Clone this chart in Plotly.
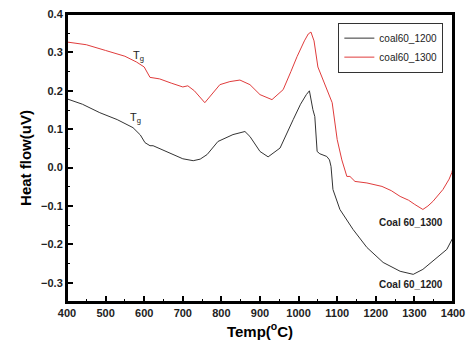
import plotly.graph_objects as go

# coal60_1300 (red)
temp_1300 = [400, 450, 500, 550, 580, 600, 615, 640, 670, 700, 713, 730, 757, 775, 796, 822, 848, 874, 900, 931,
             960, 980, 996, 1015, 1025, 1032, 1040, 1050, 1060, 1075, 1087, 1100, 1112, 1125, 1133, 1146, 1177,
             1216, 1240, 1263, 1285, 1301, 1322, 1335, 1348, 1374, 1390, 1397, 1400]
heat_1300 = [0.327, 0.32, 0.305, 0.29, 0.275, 0.262, 0.235, 0.231, 0.22, 0.21, 0.213, 0.2, 0.169, 0.19, 0.216,
             0.224, 0.228, 0.216, 0.19, 0.177, 0.203, 0.25, 0.289, 0.33, 0.348, 0.353, 0.33, 0.262, 0.236, 0.2,
             0.169, 0.073, 0.02, -0.023, -0.023, -0.036, -0.04, -0.049, -0.06, -0.075, -0.085, -0.096, -0.109,
             -0.1, -0.088, -0.057, -0.03, -0.013, 0.0]

# coal60_1200 (black)
temp_1200 = [400, 440, 485, 530, 571, 590, 602, 615, 623, 659, 700, 727, 745, 763, 791, 830, 861, 874, 900, 921,
             952, 986, 1005, 1020, 1028, 1037, 1042, 1048, 1055, 1073, 1080, 1084, 1089, 1107, 1141, 1177, 1219,
             1263, 1297, 1322, 1358, 1384, 1400]
heat_1200 = [0.179, 0.165, 0.143, 0.125, 0.104, 0.085, 0.065, 0.057, 0.057, 0.042, 0.023, 0.018, 0.022, 0.034,
             0.068, 0.086, 0.094, 0.081, 0.042, 0.028, 0.051, 0.125, 0.165, 0.19, 0.2, 0.151, 0.133, 0.042, 0.036,
             0.029, 0.02, 0.003, -0.057, -0.109, -0.161, -0.208, -0.247, -0.27, -0.278, -0.265, -0.234, -0.213,
             -0.182]

x_ticks = [400, 500, 600, 700, 800, 900, 1000, 1100, 1200, 1300, 1400]
y_ticks = [-0.3, -0.2, -0.1, 0.0, 0.1, 0.2, 0.3, 0.4]

FONT = "Arial, Liberation Sans, sans-serif"

fig = go.Figure()
fig.add_trace(go.Scatter(x=temp_1200, y=heat_1200, mode="lines", name="coal60_1200",
                         line=dict(color="#333333", width=1)))
fig.add_trace(go.Scatter(x=temp_1300, y=heat_1300, mode="lines", name="coal60_1300",
                         line=dict(color="#e03c3c", width=1)))

axis_common = dict(showline=True, linecolor="black", linewidth=2, mirror=True, ticks="inside",
                   ticklen=6, tickwidth=1.5, tickcolor="black", showgrid=False, zeroline=False,
                   automargin=False, ticklabeloverflow="allow",
                   tickfont=dict(family=FONT, size=11, color="#222", weight="bold"))

fig.update_xaxes(range=[400, 1400], tickvals=x_ticks,
                 minor=dict(ticks="inside", ticklen=3, dtick=50, tick0=400, tickcolor="black", tickwidth=1.2),
                 title=dict(text="<b>Temp(<sup>o</sup>C)</b>", font=dict(family=FONT, size=15, color="black"),
                            standoff=8),
                 **axis_common)
fig.update_yaxes(range=[-0.35, 0.4], tickvals=y_ticks, tickformat=".1f",
                 minor=dict(ticks="inside", ticklen=3, dtick=0.05, tick0=0, tickcolor="black", tickwidth=1.2),
                 title=dict(text="<b>Heat flow(uV)</b>", font=dict(family=FONT, size=15, color="black"),
                            standoff=6),
                 **axis_common)

fig.update_layout(
    width=473, height=355,
    margin=dict(l=67, r=20, t=14, b=53),
    plot_bgcolor="white", paper_bgcolor="white",
    font=dict(family=FONT),
    legend=dict(x=0.703, y=0.97, xanchor="left", yanchor="top", bordercolor="#333", borderwidth=1,
                bgcolor="white", font=dict(family=FONT, size=10, color="#222"),
                tracegroupgap=0, itemwidth=30),
    shapes=[dict(type="rect", xref="paper", yref="paper", x0=0, x1=1, y0=0, y1=1,
                 line=dict(color="black", width=2), fillcolor="rgba(0,0,0,0)", layer="above")],
)

ann_font = dict(family=FONT, size=10, color="#222", weight="bold")
fig.add_annotation(x=585, y=0.29, text="T<sub>g</sub>", showarrow=False, font=dict(family=FONT, size=11, color="#222"))
fig.add_annotation(x=578, y=0.13, text="T<sub>g</sub>", showarrow=False, font=dict(family=FONT, size=11, color="#222"))
fig.add_annotation(x=1292, y=-0.142, text="Coal 60_1300", showarrow=False, font=ann_font)
fig.add_annotation(x=1292, y=-0.305, text="Coal 60_1200", showarrow=False, font=ann_font)

fig.write_html("out.html", config={"displayModeBar": False},
               post_script="document.body.style.margin='0';")
